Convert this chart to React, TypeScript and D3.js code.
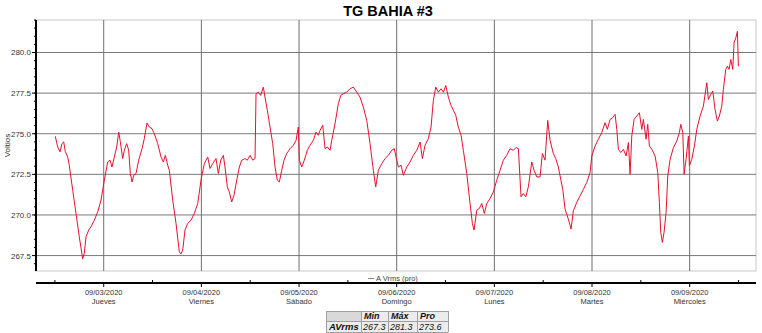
import React from "react";
import * as d3 from "d3";

// Hours from 2020-09-02 00:00
const hours = [
  12.1, 12.7, 13.26, 13.75, 14.17, 14.56, 15.15, 15.54, 16.38, 17.19, 18.0, 18.84, 19.23, 19.65, 20.31, 20.88,
  21.69, 22.53, 23.34, 24.15, 24.98, 25.55, 26.04, 26.6, 27.2, 27.69, 28.08, 28.67, 29.06, 29.65, 30.14, 30.54,
  30.96, 31.37, 31.94, 32.6, 33.41, 33.98, 34.64, 35.21, 35.87, 36.44, 37.27, 38.08, 38.65, 39.14, 39.73, 40.12,
  40.96, 41.77, 42.58, 43.0, 43.42, 43.98, 44.65, 45.46, 46.27, 47.1, 47.91, 48.73, 49.56, 50.13, 50.79, 51.6,
  52.17, 52.76, 53.4, 53.81, 54.38, 54.87, 55.46, 56.03, 56.69, 57.33, 57.92, 58.73, 59.29, 59.96, 60.62, 61.19,
  61.43, 62.0, 62.59, 63.23, 63.64, 64.21, 64.87, 65.54, 66.1, 66.67, 67.16, 67.75, 68.31, 68.98, 69.79, 70.6,
  71.26, 71.83, 72.07, 72.66, 73.3, 74.04, 74.7, 75.52, 76.18, 76.74, 77.16, 77.83, 78.39, 78.96, 79.62, 80.04,
  80.85, 81.66, 82.25, 82.89, 83.72, 84.54, 85.35, 86.18, 86.99, 87.8, 88.64, 89.45, 90.26, 90.85, 91.49, 92.33,
  93.14, 93.95, 94.78, 95.42, 95.84, 96.41, 97.07, 97.64, 98.47, 99.28, 100.09, 100.93, 101.74, 102.31, 102.97, 103.78,
  104.44, 105.01, 105.6, 106.24, 106.9, 107.47, 108.06, 108.7, 109.36, 109.93, 110.52, 111.15, 111.82, 112.38, 113.22, 114.03,
  114.6, 115.01, 115.68, 116.32, 116.9, 117.54, 118.13, 118.94, 119.76, 120.59, 121.4, 122.21, 123.05, 123.86, 124.67, 125.33,
  125.9, 126.56, 127.13, 127.72, 128.36, 129.19, 129.76, 130.42, 131.23, 131.8, 132.46, 133.12, 133.69, 134.5, 135.09, 135.73,
  136.15, 136.81, 137.38, 138.19, 138.85, 139.42, 140.25, 141.06, 141.88, 142.71, 143.52, 143.94, 144.75, 145.56, 146.4, 147.21,
  147.77, 148.44, 149.1, 149.67, 150.09, 150.48, 151.07, 151.71, 152.38, 152.94, 153.36, 153.77, 154.34, 155.0, 155.64, 156.23,
  156.62, 157.29, 157.7, 158.1, 158.69, 159.5, 160.16, 160.55, 160.9, 161.29, 161.71, 162.2, 162.62, 163.19, 164.0, 164.83,
  165.47, 165.82, 166.31, 166.63, 167.12, 167.69, 167.93, 168.52, 169.16, 169.75, 170.56, 171.37, 172.21, 172.6, 173.19, 173.68,
  174.24, 174.81, 175.3, 175.89, 176.28, 176.87, 177.27, 177.69, 178.1, 178.59, 178.91, 179.34, 179.73, 179.97,
];

const voltsAvg = [
  274.84, 274.18, 273.88, 274.4, 274.5, 273.9, 273.57, 273.06, 271.52, 270.09, 268.65, 267.3, 267.64, 268.65, 269.07, 269.27,
  269.68, 270.19, 270.91, 272.14, 273.26, 273.37, 272.95, 273.57, 274.18, 275.1, 274.5, 273.47, 273.98, 274.39, 273.98, 272.55,
  272.03, 272.44, 272.55, 273.37, 274.08, 274.7, 275.66, 275.41, 275.31, 275.0, 274.39, 273.57, 273.26, 273.67, 273.06, 272.75,
  270.91, 269.48, 267.73, 267.6, 267.84, 269.07, 269.48, 269.68, 270.09, 270.7, 272.14, 273.16, 273.57, 272.86, 273.16, 273.47,
  272.55, 273.37, 273.67, 272.95, 271.73, 271.42, 270.8, 271.22, 272.14, 272.95, 273.37, 273.47, 273.37, 273.67, 273.37, 273.47,
  277.46, 277.56, 277.36, 277.87, 277.25, 276.44, 275.41, 274.39, 272.95, 272.14, 272.03, 272.75, 273.37, 273.78, 274.08, 274.29,
  274.59, 275.41, 273.37, 272.95, 273.37, 273.98, 274.29, 274.59, 275.1, 274.9, 275.2, 275.52, 274.08, 274.18, 273.98, 274.59,
  275.62, 276.85, 277.36, 277.46, 277.56, 277.77, 277.87, 277.56, 277.25, 276.64, 275.82, 274.39, 272.75, 271.73, 272.75, 273.16,
  273.47, 273.67, 273.98, 274.08, 273.57, 272.95, 273.06, 272.44, 272.95, 273.26, 273.67, 273.98, 274.49, 273.47, 274.29, 274.7,
  275.41, 277.05, 277.87, 277.56, 277.77, 277.56, 277.97, 277.25, 276.74, 276.44, 276.13, 275.41, 274.9, 273.98, 272.55, 270.7,
  269.48, 269.07, 270.3, 270.4, 270.7, 270.09, 270.7, 271.01, 271.42, 272.14, 272.75, 273.37, 273.67, 274.08, 273.98, 274.15,
  274.08, 271.11, 271.32, 271.11, 271.73, 273.26, 272.75, 272.34, 272.34, 273.78, 273.37, 275.82, 274.59, 273.78, 273.47, 272.95,
  272.4, 271.58, 270.36, 269.74, 269.13, 270.25, 270.77, 271.17, 271.58, 272.0, 272.61, 273.63, 274.24, 274.66, 275.07, 275.68,
  275.27, 275.88, 275.99, 276.19, 275.27, 274.04, 273.84, 274.04, 273.63, 274.45, 272.51, 274.86, 275.88, 276.09, 276.29, 275.27,
  275.88, 274.66, 275.58, 274.24, 274.04, 273.63, 272.61, 270.77, 268.93, 268.31, 268.93, 270.15, 272.4, 273.43, 274.14, 274.55,
  275.07, 275.58, 275.07, 272.51, 273.43, 274.86, 273.02, 273.43, 274.24, 275.27, 276.09, 276.7, 278.14, 277.11, 277.42, 277.62,
  276.5, 275.78, 276.09, 276.7, 277.73, 278.96, 279.16, 278.96, 279.57, 278.96, 280.6, 280.9, 281.3, 279.16,
];

const yTicks = [267.5, 270.0, 272.5, 275.0, 277.5, 280.0];
const dayTicks = ["09/03/2020", "09/04/2020", "09/05/2020", "09/06/2020", "09/07/2020", "09/08/2020", "09/09/2020"];
const dayNames = ["Jueves", "Viernes", "Sábado", "Domingo", "Lunes", "Martes", "Miércoles"];
const dayHours = [24, 48, 72, 96, 120, 144, 168];
const noonHours = [12, 36, 60, 84, 108, 132, 156, 180];
const statHeaders = ["Min", "Máx", "Pro"];
const statValues = ["267.3", "281.3", "273.6"];
const seriesName = "AVrms";

const W = 762;
const H = 333;
const left = 36;
const right = 756;
const top = 20;
const bottom = 271;
const FONT = "'Liberation Sans', Arial, sans-serif";

export default function App() {
  const x = d3.scaleLinear().domain([7.36, 184.3]).range([left, right]);
  const y = d3.scaleLinear().domain([266.55, 282.0]).range([bottom, top]);
  const pts = hours.map((h, i) => [h, voltsAvg[i]] as [number, number]);
  const line = d3
    .line<[number, number]>()
    .x((d) => x(d[0]))
    .y((d) => y(d[1]));

  const minorY = d3.range(267.0, 282.01, 0.5);
  const axisY = 283;

  const colX = [326, 361, 388, 417, 448];
  const rowY = [311, 321, 332];

  return (
    <svg width={W} height={H} style={{ position: "absolute", left: 0, top: 0, background: "#fff" }}>
      <text x={388} y={15.5} textAnchor="middle" fontFamily={FONT} fontWeight="bold" fontSize={14.5} fill="#000">
        TG BAHIA #3
      </text>
      {/* plot frame */}
      <rect x={left} y={top} width={right - left} height={bottom - top} fill="#fff" stroke="#c8c8c8" strokeWidth={1} />
      {/* horizontal grid */}
      {yTicks.map((t) => (
        <line key={"g" + t} x1={left} x2={right} y1={y(t)} y2={y(t)} stroke="#7a7a7a" strokeWidth={1} />
      ))}
      {/* vertical grid */}
      {dayHours.map((h) => (
        <line key={"v" + h} x1={x(h)} x2={x(h)} y1={top} y2={bottom} stroke="#6e6e6e" strokeWidth={1} />
      ))}
      {/* series */}
      <path d={line(pts) || ""} fill="none" stroke="#e8102e" strokeWidth={1} strokeLinejoin="round" />
      {/* y axis */}
      <line x1={left} x2={left} y1={top} y2={bottom} stroke="#000" strokeWidth={2} />
      {minorY.map((t) => (
        <line key={"m" + t} x1={left - 2} x2={left} y1={y(t)} y2={y(t)} stroke="#000" strokeWidth={1} />
      ))}
      {yTicks.map((t) => (
        <g key={"t" + t}>
          <line x1={left - 4} x2={left} y1={y(t)} y2={y(t)} stroke="#000" strokeWidth={1} />
          <text x={left - 5} y={y(t) + 3} textAnchor="end" fontFamily={FONT} fontSize={8} fill="#333">
            {t.toFixed(1)}
          </text>
        </g>
      ))}
      <text
        transform={`translate(10,${(top + bottom) / 2}) rotate(-90)`}
        textAnchor="middle"
        fontFamily={FONT}
        fontSize={8}
        fill="#333"
      >
        Voltios
      </text>
      {/* legend */}
      <line x1={368} x2={374} y1={278.5} y2={278.5} stroke="#888" strokeWidth={1} />
      <text x={376} y={281} fontFamily={FONT} fontSize={7.5} fill="#444">
        A Vrms (pro)
      </text>
      {/* x axis */}
      <line x1={left} x2={right} y1={axisY} y2={axisY} stroke="#000" strokeWidth={2} />
      {noonHours.map((h) => (
        <line key={"n" + h} x1={x(h)} x2={x(h)} y1={axisY - 3} y2={axisY} stroke="#000" strokeWidth={1} />
      ))}
      {dayHours.map((h, i) => (
        <g key={"d" + h}>
          <line x1={x(h)} x2={x(h)} y1={axisY} y2={axisY + 4} stroke="#000" strokeWidth={1} />
          <text x={x(h)} y={295} textAnchor="middle" fontFamily={FONT} fontSize={7.5} fill="#333">
            {dayTicks[i]}
          </text>
          <text x={x(h)} y={304} textAnchor="middle" fontFamily={FONT} fontSize={7.5} fill="#333">
            {dayNames[i]}
          </text>
        </g>
      ))}
      {/* stats table */}
      <rect x={colX[0]} y={rowY[0]} width={colX[4] - colX[0]} height={rowY[2] - rowY[0]} fill="#ececec" />
      <rect x={colX[0]} y={rowY[0]} width={colX[1] - colX[0]} height={rowY[1] - rowY[0]} fill="#d9d9d9" />
      {[0, 1, 2].map((r) => (
        <line key={"tr" + r} x1={colX[0]} x2={colX[4]} y1={rowY[r] + 0.5} y2={rowY[r] + 0.5} stroke="#a0a0a0" strokeWidth={1} />
      ))}
      {colX.map((cx, c) => (
        <line key={"tc" + c} x1={cx + 0.5} x2={cx + 0.5} y1={rowY[0]} y2={rowY[2]} stroke="#a0a0a0" strokeWidth={1} />
      ))}
      {statHeaders.map((hd, i) => (
        <text
          key={"h" + hd}
          x={colX[i + 1] + 3}
          y={rowY[1] - 2}
          fontFamily={FONT}
          fontSize={9}
          fontWeight="bold"
          fontStyle="italic"
          fill="#111"
        >
          {hd}
        </text>
      ))}
      <text x={colX[0] + 3} y={rowY[2] - 2} fontFamily={FONT} fontSize={9.5} fontWeight="bold" fontStyle="italic" fill="#111">
        {seriesName}
      </text>
      {statValues.map((v, i) => (
        <text key={"s" + i} x={colX[i + 1] + 2} y={rowY[2] - 2} fontFamily={FONT} fontSize={9} fontStyle="italic" fill="#111">
          {v}
        </text>
      ))}
    </svg>
  );
}
